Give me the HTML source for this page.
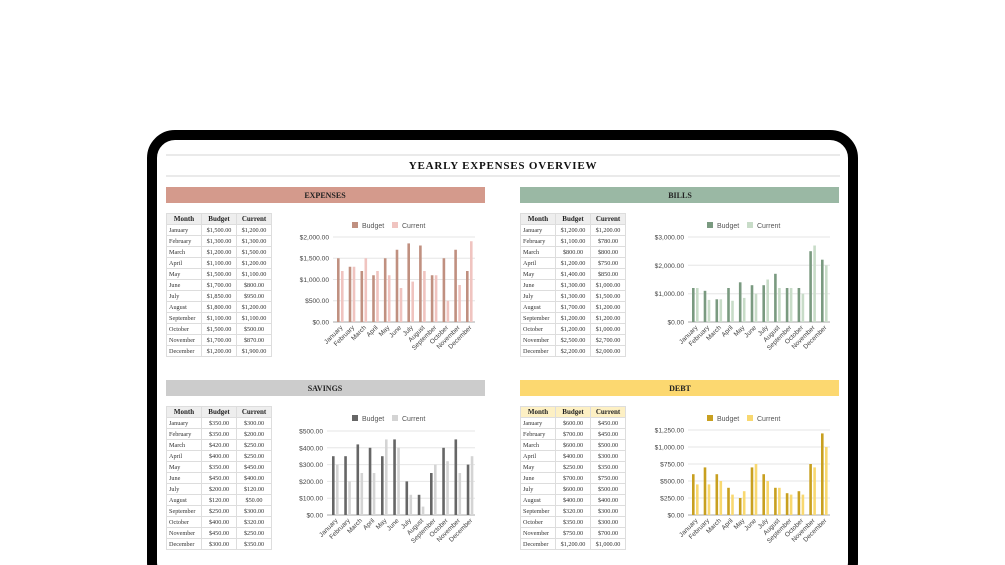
<!DOCTYPE html>
<html style="overflow:hidden"><head><meta charset="utf-8"><style>
html,body{margin:0;padding:0;width:1005px;height:565px;overflow:hidden;background:#fff}
#wrap{position:relative;width:1005px;height:565px;overflow:hidden;font-family:"Liberation Serif",serif}
.frame{position:absolute;left:147px;top:130px;width:691px;height:440px;border:10px solid #000;border-radius:28px;background:#fff}
table{position:absolute;border-collapse:collapse;font-size:6.2px;color:#333;font-family:"Liberation Serif",serif;table-layout:fixed;width:106px}
td,th{border:1px solid #ddd;height:10px;padding:0 1px;line-height:9px;overflow:hidden;white-space:nowrap}
th{font-size:7px;color:#222;background:#eee}
td:first-child{text-align:left;padding-left:2px}
td{text-align:center}
.deb th{background:#fdf0c4}
svg{position:absolute;left:0;top:0}
</style></head><body><div id="wrap">
<div class="frame"></div>
<svg width="1005" height="565" font-family="Liberation Sans, sans-serif">
<line x1="166" y1="155" x2="840" y2="155" stroke="#e4e4e4" stroke-width="1.5"/>
<line x1="166" y1="176" x2="840" y2="176" stroke="#e4e4e4" stroke-width="1.5"/>
<text x="503" y="169" text-anchor="middle" font-family="Liberation Serif,serif" font-weight="bold" font-size="11" letter-spacing="0.8" fill="#111">YEARLY EXPENSES OVERVIEW</text>
<rect x="166" y="187" width="319" height="16" fill="#d49a8c"/><text x="325" y="198" text-anchor="middle" font-family="Liberation Serif,serif" font-weight="bold" font-size="8" fill="#222">EXPENSES</text>
<rect x="520" y="187" width="319" height="16" fill="#9ab8a4"/><text x="680" y="198" text-anchor="middle" font-family="Liberation Serif,serif" font-weight="bold" font-size="8" fill="#222">BILLS</text>
<rect x="166" y="380" width="319" height="16" fill="#cccccc"/><text x="325" y="391" text-anchor="middle" font-family="Liberation Serif,serif" font-weight="bold" font-size="8" fill="#222">SAVINGS</text>
<rect x="520" y="380" width="319" height="16" fill="#fcd870"/><text x="680" y="391" text-anchor="middle" font-family="Liberation Serif,serif" font-weight="bold" font-size="8" fill="#222">DEBT</text>

<g font-size="7" fill="#555">
<rect x="352" y="222" width="6" height="6" fill="#c09080"/><text x="362" y="228">Budget</text><rect x="392" y="222" width="6" height="6" fill="#f0c4c0"/><text x="402" y="228">Current</text>
<rect x="707" y="222" width="6" height="6" fill="#7a9a80"/><text x="717" y="228">Budget</text><rect x="747" y="222" width="6" height="6" fill="#c8dcc8"/><text x="757" y="228">Current</text>
<rect x="352" y="415" width="6" height="6" fill="#666"/><text x="362" y="421">Budget</text><rect x="392" y="415" width="6" height="6" fill="#d4d4d4"/><text x="402" y="421">Current</text>
<rect x="707" y="415" width="6" height="6" fill="#c8a020"/><text x="717" y="421">Budget</text><rect x="747" y="415" width="6" height="6" fill="#f8d870"/><text x="757" y="421">Current</text>
</g>

<g stroke="#e6e6e6" stroke-width="1">
<line x1="333" x2="475" y1="237" y2="237"/><line x1="333" x2="475" y1="258.25" y2="258.25"/><line x1="333" x2="475" y1="279.5" y2="279.5"/><line x1="333" x2="475" y1="300.75" y2="300.75"/>
<line x1="688" x2="830" y1="237" y2="237"/><line x1="688" x2="830" y1="265.3" y2="265.3"/><line x1="688" x2="830" y1="293.7" y2="293.7"/>
<line x1="327" x2="475" y1="431" y2="431"/><line x1="327" x2="475" y1="447.8" y2="447.8"/><line x1="327" x2="475" y1="464.6" y2="464.6"/><line x1="327" x2="475" y1="481.4" y2="481.4"/><line x1="327" x2="475" y1="498.2" y2="498.2"/>
<line x1="688" x2="830" y1="430" y2="430"/><line x1="688" x2="830" y1="447" y2="447"/><line x1="688" x2="830" y1="464" y2="464"/><line x1="688" x2="830" y1="481" y2="481"/><line x1="688" x2="830" y1="498" y2="498"/>
</g>
<g stroke="#aaa"><line x1="333" x2="475" y1="322" y2="322"/><line x1="688" x2="830" y1="322" y2="322"/><line x1="327" x2="475" y1="515" y2="515"/><line x1="688" x2="830" y1="515" y2="515"/></g>
<g font-size="6.6" fill="#444" text-anchor="end">
<text x="329" y="239.5">$2,000.00</text><text x="329" y="260.7">$1,500.00</text><text x="329" y="282">$1,000.00</text><text x="329" y="303.2">$500.00</text><text x="329" y="324.5">$0.00</text>
<text x="684" y="239.5">$3,000.00</text><text x="684" y="267.8">$2,000.00</text><text x="684" y="296.2">$1,000.00</text><text x="684" y="324.5">$0.00</text>
<text x="323" y="433.5">$500.00</text><text x="323" y="450.3">$400.00</text><text x="323" y="467.1">$300.00</text><text x="323" y="483.9">$200.00</text><text x="323" y="500.7">$100.00</text><text x="323" y="517.5">$0.00</text>
<text x="684" y="432.5">$1,250.00</text><text x="684" y="449.5">$1,000.00</text><text x="684" y="466.5">$750.00</text><text x="684" y="483.5">$500.00</text><text x="684" y="500.5">$250.00</text><text x="684" y="517.5">$0.00</text>
</g>

<g transform="translate(337,322)" fill="#c09080">
<rect x="0" y="-63.75" width="2.6" height="63.75"/><rect x="11.7" y="-55.25" width="2.6" height="55.25"/><rect x="23.5" y="-51" width="2.6" height="51"/><rect x="35.2" y="-46.75" width="2.6" height="46.75"/><rect x="46.9" y="-63.75" width="2.6" height="63.75"/><rect x="58.7" y="-72.25" width="2.6" height="72.25"/><rect x="70.4" y="-78.6" width="2.6" height="78.6"/><rect x="82.1" y="-76.5" width="2.6" height="76.5"/><rect x="93.8" y="-46.75" width="2.6" height="46.75"/><rect x="105.6" y="-63.75" width="2.6" height="63.75"/><rect x="117.3" y="-72.25" width="2.6" height="72.25"/><rect x="129" y="-51" width="2.6" height="51"/>
</g>
<g transform="translate(341,322)" fill="#f0c4c0">
<rect x="0" y="-51" width="2.6" height="51"/><rect x="11.7" y="-55.25" width="2.6" height="55.25"/><rect x="23.5" y="-63.75" width="2.6" height="63.75"/><rect x="35.2" y="-51" width="2.6" height="51"/><rect x="46.9" y="-46.75" width="2.6" height="46.75"/><rect x="58.7" y="-34" width="2.6" height="34"/><rect x="70.4" y="-40.4" width="2.6" height="40.4"/><rect x="82.1" y="-51" width="2.6" height="51"/><rect x="93.8" y="-46.75" width="2.6" height="46.75"/><rect x="105.6" y="-21.25" width="2.6" height="21.25"/><rect x="117.3" y="-37" width="2.6" height="37"/><rect x="129" y="-80.75" width="2.6" height="80.75"/>
</g>
<g transform="translate(692,322)" fill="#7a9a80">
<rect x="0" y="-34" width="2.6" height="34"/><rect x="11.7" y="-31.2" width="2.6" height="31.2"/><rect x="23.5" y="-22.7" width="2.6" height="22.7"/><rect x="35.2" y="-34" width="2.6" height="34"/><rect x="46.9" y="-39.7" width="2.6" height="39.7"/><rect x="58.7" y="-36.8" width="2.6" height="36.8"/><rect x="70.4" y="-36.8" width="2.6" height="36.8"/><rect x="82.1" y="-48.2" width="2.6" height="48.2"/><rect x="93.8" y="-34" width="2.6" height="34"/><rect x="105.6" y="-34" width="2.6" height="34"/><rect x="117.3" y="-70.8" width="2.6" height="70.8"/><rect x="129" y="-62.3" width="2.6" height="62.3"/>
</g>
<g transform="translate(696,322)" fill="#c8dcc8">
<rect x="0" y="-34" width="2.6" height="34"/><rect x="11.7" y="-22.1" width="2.6" height="22.1"/><rect x="23.5" y="-22.7" width="2.6" height="22.7"/><rect x="35.2" y="-21.25" width="2.6" height="21.25"/><rect x="46.9" y="-24.1" width="2.6" height="24.1"/><rect x="58.7" y="-28.3" width="2.6" height="28.3"/><rect x="70.4" y="-42.5" width="2.6" height="42.5"/><rect x="82.1" y="-34" width="2.6" height="34"/><rect x="93.8" y="-34" width="2.6" height="34"/><rect x="105.6" y="-28.3" width="2.6" height="28.3"/><rect x="117.3" y="-76.5" width="2.6" height="76.5"/><rect x="129" y="-56.7" width="2.6" height="56.7"/>
</g>
<g transform="translate(332,515)" fill="#666">
<rect x="0" y="-58.8" width="2.6" height="58.8"/><rect x="12.25" y="-58.8" width="2.6" height="58.8"/><rect x="24.5" y="-70.6" width="2.6" height="70.6"/><rect x="36.75" y="-67.2" width="2.6" height="67.2"/><rect x="49" y="-58.8" width="2.6" height="58.8"/><rect x="61.25" y="-75.6" width="2.6" height="75.6"/><rect x="73.5" y="-33.6" width="2.6" height="33.6"/><rect x="85.75" y="-20.2" width="2.6" height="20.2"/><rect x="98" y="-42" width="2.6" height="42"/><rect x="110.25" y="-67.2" width="2.6" height="67.2"/><rect x="122.5" y="-75.6" width="2.6" height="75.6"/><rect x="134.75" y="-50.4" width="2.6" height="50.4"/>
</g>
<g transform="translate(336,515)" fill="#d4d4d4">
<rect x="0" y="-50.4" width="2.6" height="50.4"/><rect x="12.25" y="-33.6" width="2.6" height="33.6"/><rect x="24.5" y="-42" width="2.6" height="42"/><rect x="36.75" y="-42" width="2.6" height="42"/><rect x="49" y="-75.6" width="2.6" height="75.6"/><rect x="61.25" y="-67.2" width="2.6" height="67.2"/><rect x="73.5" y="-20.2" width="2.6" height="20.2"/><rect x="85.75" y="-8.4" width="2.6" height="8.4"/><rect x="98" y="-50.4" width="2.6" height="50.4"/><rect x="110.25" y="-53.8" width="2.6" height="53.8"/><rect x="122.5" y="-42" width="2.6" height="42"/><rect x="134.75" y="-58.8" width="2.6" height="58.8"/>
</g>
<g transform="translate(692,515)" fill="#c8a020">
<rect x="0" y="-40.8" width="2.6" height="40.8"/><rect x="11.7" y="-47.6" width="2.6" height="47.6"/><rect x="23.5" y="-40.8" width="2.6" height="40.8"/><rect x="35.2" y="-27.2" width="2.6" height="27.2"/><rect x="46.9" y="-17" width="2.6" height="17"/><rect x="58.7" y="-47.6" width="2.6" height="47.6"/><rect x="70.4" y="-40.8" width="2.6" height="40.8"/><rect x="82.1" y="-27.2" width="2.6" height="27.2"/><rect x="93.8" y="-21.8" width="2.6" height="21.8"/><rect x="105.6" y="-23.8" width="2.6" height="23.8"/><rect x="117.3" y="-51" width="2.6" height="51"/><rect x="129" y="-81.6" width="2.6" height="81.6"/>
</g>
<g transform="translate(696,515)" fill="#f8d870">
<rect x="0" y="-30.6" width="2.6" height="30.6"/><rect x="11.7" y="-30.6" width="2.6" height="30.6"/><rect x="23.5" y="-34" width="2.6" height="34"/><rect x="35.2" y="-20.4" width="2.6" height="20.4"/><rect x="46.9" y="-23.8" width="2.6" height="23.8"/><rect x="58.7" y="-51" width="2.6" height="51"/><rect x="70.4" y="-34" width="2.6" height="34"/><rect x="82.1" y="-27.2" width="2.6" height="27.2"/><rect x="93.8" y="-20.4" width="2.6" height="20.4"/><rect x="105.6" y="-20.4" width="2.6" height="20.4"/><rect x="117.3" y="-47.6" width="2.6" height="47.6"/><rect x="129" y="-68" width="2.6" height="68"/>
</g>

<g font-size="6.5" fill="#444" text-anchor="end">
<g transform="translate(343,328)"><text transform="translate(0,0) rotate(-45)">January</text><text transform="translate(11.7,0) rotate(-45)">February</text><text transform="translate(23.5,0) rotate(-45)">March</text><text transform="translate(35.2,0) rotate(-45)">April</text><text transform="translate(46.9,0) rotate(-45)">May</text><text transform="translate(58.7,0) rotate(-45)">June</text><text transform="translate(70.4,0) rotate(-45)">July</text><text transform="translate(82.1,0) rotate(-45)">August</text><text transform="translate(93.8,0) rotate(-45)">September</text><text transform="translate(105.6,0) rotate(-45)">October</text><text transform="translate(117.3,0) rotate(-45)">November</text><text transform="translate(129,0) rotate(-45)">December</text></g>
<g transform="translate(698,328)"><text transform="translate(0,0) rotate(-45)">January</text><text transform="translate(11.7,0) rotate(-45)">February</text><text transform="translate(23.5,0) rotate(-45)">March</text><text transform="translate(35.2,0) rotate(-45)">April</text><text transform="translate(46.9,0) rotate(-45)">May</text><text transform="translate(58.7,0) rotate(-45)">June</text><text transform="translate(70.4,0) rotate(-45)">July</text><text transform="translate(82.1,0) rotate(-45)">August</text><text transform="translate(93.8,0) rotate(-45)">September</text><text transform="translate(105.6,0) rotate(-45)">October</text><text transform="translate(117.3,0) rotate(-45)">November</text><text transform="translate(129,0) rotate(-45)">December</text></g>
<g transform="translate(338,521)"><text transform="translate(0,0) rotate(-45)">January</text><text transform="translate(12.25,0) rotate(-45)">February</text><text transform="translate(24.5,0) rotate(-45)">March</text><text transform="translate(36.75,0) rotate(-45)">April</text><text transform="translate(49,0) rotate(-45)">May</text><text transform="translate(61.25,0) rotate(-45)">June</text><text transform="translate(73.5,0) rotate(-45)">July</text><text transform="translate(85.75,0) rotate(-45)">August</text><text transform="translate(98,0) rotate(-45)">September</text><text transform="translate(110.25,0) rotate(-45)">October</text><text transform="translate(122.5,0) rotate(-45)">November</text><text transform="translate(134.75,0) rotate(-45)">December</text></g>
<g transform="translate(698,521)"><text transform="translate(0,0) rotate(-45)">January</text><text transform="translate(11.7,0) rotate(-45)">February</text><text transform="translate(23.5,0) rotate(-45)">March</text><text transform="translate(35.2,0) rotate(-45)">April</text><text transform="translate(46.9,0) rotate(-45)">May</text><text transform="translate(58.7,0) rotate(-45)">June</text><text transform="translate(70.4,0) rotate(-45)">July</text><text transform="translate(82.1,0) rotate(-45)">August</text><text transform="translate(93.8,0) rotate(-45)">September</text><text transform="translate(105.6,0) rotate(-45)">October</text><text transform="translate(117.3,0) rotate(-45)">November</text><text transform="translate(129,0) rotate(-45)">December</text></g>
</g>
</svg>

<table style="left:166px;top:213px"><tr><th>Month</th><th>Budget</th><th>Current</th></tr>
<tr><td>January</td><td>$1,500.00</td><td>$1,200.00</td></tr><tr><td>February</td><td>$1,300.00</td><td>$1,300.00</td></tr><tr><td>March</td><td>$1,200.00</td><td>$1,500.00</td></tr><tr><td>April</td><td>$1,100.00</td><td>$1,200.00</td></tr><tr><td>May</td><td>$1,500.00</td><td>$1,100.00</td></tr><tr><td>June</td><td>$1,700.00</td><td>$800.00</td></tr><tr><td>July</td><td>$1,850.00</td><td>$950.00</td></tr><tr><td>August</td><td>$1,800.00</td><td>$1,200.00</td></tr><tr><td>September</td><td>$1,100.00</td><td>$1,100.00</td></tr><tr><td>October</td><td>$1,500.00</td><td>$500.00</td></tr><tr><td>November</td><td>$1,700.00</td><td>$870.00</td></tr><tr><td>December</td><td>$1,200.00</td><td>$1,900.00</td></tr></table>

<table style="left:520px;top:213px"><tr><th>Month</th><th>Budget</th><th>Current</th></tr>
<tr><td>January</td><td>$1,200.00</td><td>$1,200.00</td></tr><tr><td>February</td><td>$1,100.00</td><td>$780.00</td></tr><tr><td>March</td><td>$800.00</td><td>$800.00</td></tr><tr><td>April</td><td>$1,200.00</td><td>$750.00</td></tr><tr><td>May</td><td>$1,400.00</td><td>$850.00</td></tr><tr><td>June</td><td>$1,300.00</td><td>$1,000.00</td></tr><tr><td>July</td><td>$1,300.00</td><td>$1,500.00</td></tr><tr><td>August</td><td>$1,700.00</td><td>$1,200.00</td></tr><tr><td>September</td><td>$1,200.00</td><td>$1,200.00</td></tr><tr><td>October</td><td>$1,200.00</td><td>$1,000.00</td></tr><tr><td>November</td><td>$2,500.00</td><td>$2,700.00</td></tr><tr><td>December</td><td>$2,200.00</td><td>$2,000.00</td></tr></table>

<table style="left:166px;top:406px"><tr><th>Month</th><th>Budget</th><th>Current</th></tr>
<tr><td>January</td><td>$350.00</td><td>$300.00</td></tr><tr><td>February</td><td>$350.00</td><td>$200.00</td></tr><tr><td>March</td><td>$420.00</td><td>$250.00</td></tr><tr><td>April</td><td>$400.00</td><td>$250.00</td></tr><tr><td>May</td><td>$350.00</td><td>$450.00</td></tr><tr><td>June</td><td>$450.00</td><td>$400.00</td></tr><tr><td>July</td><td>$200.00</td><td>$120.00</td></tr><tr><td>August</td><td>$120.00</td><td>$50.00</td></tr><tr><td>September</td><td>$250.00</td><td>$300.00</td></tr><tr><td>October</td><td>$400.00</td><td>$320.00</td></tr><tr><td>November</td><td>$450.00</td><td>$250.00</td></tr><tr><td>December</td><td>$300.00</td><td>$350.00</td></tr></table>

<table class="deb" style="left:520px;top:406px"><tr><th>Month</th><th>Budget</th><th>Current</th></tr>
<tr><td>January</td><td>$600.00</td><td>$450.00</td></tr><tr><td>February</td><td>$700.00</td><td>$450.00</td></tr><tr><td>March</td><td>$600.00</td><td>$500.00</td></tr><tr><td>April</td><td>$400.00</td><td>$300.00</td></tr><tr><td>May</td><td>$250.00</td><td>$350.00</td></tr><tr><td>June</td><td>$700.00</td><td>$750.00</td></tr><tr><td>July</td><td>$600.00</td><td>$500.00</td></tr><tr><td>August</td><td>$400.00</td><td>$400.00</td></tr><tr><td>September</td><td>$320.00</td><td>$300.00</td></tr><tr><td>October</td><td>$350.00</td><td>$300.00</td></tr><tr><td>November</td><td>$750.00</td><td>$700.00</td></tr><tr><td>December</td><td>$1,200.00</td><td>$1,000.00</td></tr></table>
</div></body></html>
